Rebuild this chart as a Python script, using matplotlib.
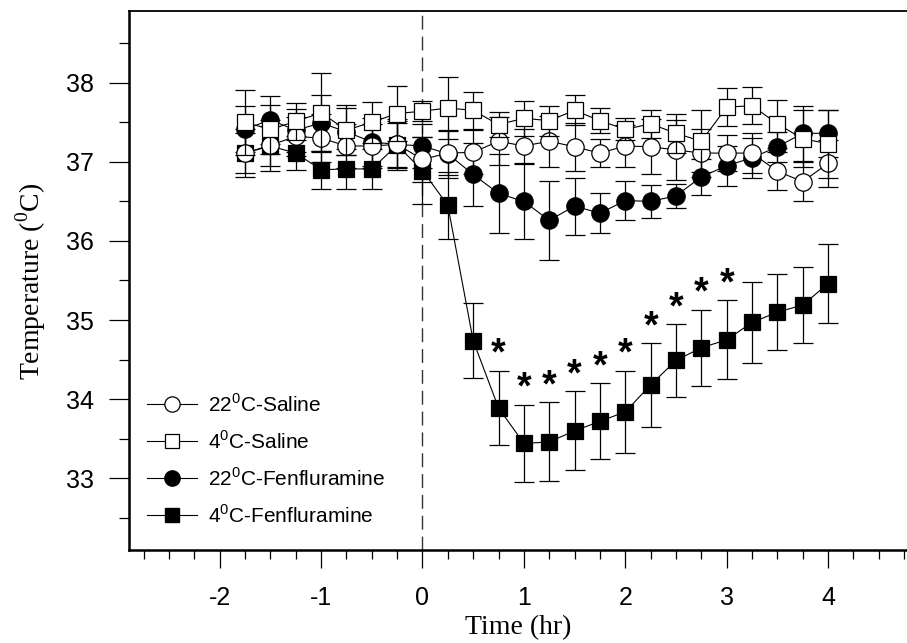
import matplotlib

matplotlib.use("Agg")
import matplotlib.pyplot as plt  # noqa: E402
from matplotlib.lines import Line2D  # noqa: E402
from matplotlib.ticker import MultipleLocator  # noqa: E402

plt.rcParams["axes.unicode_minus"] = False

SANS = ["Liberation Sans", "DejaVu Sans"]
SERIF = ["Liberation Serif", "DejaVu Serif"]

# time points (hr)
time_hr = [-1.75, -1.5, -1.25, -1.0, -0.75, -0.5, -0.25, 0.0,
           0.25, 0.5, 0.75, 1.0, 1.25, 1.5, 1.75, 2.0,
           2.25, 2.5, 2.75, 3.0, 3.25, 3.5, 3.75, 4.0]

saline_22 = [37.11, 37.21, 37.32, 37.30, 37.20, 37.20, 37.22, 37.03,
             37.11, 37.12, 37.26, 37.20, 37.26, 37.19, 37.11, 37.20,
             37.19, 37.15, 37.11, 37.11, 37.11, 36.88, 36.75, 36.98]
saline_22_se = [0.30, 0.32, 0.25, 0.30, 0.28, 0.28, 0.32, 0.28,
                0.28, 0.28, 0.30, 0.22, 0.32, 0.30, 0.18, 0.27,
                0.35, 0.38, 0.30, 0.23, 0.25, 0.24, 0.25, 0.30]

saline_4 = [37.50, 37.41, 37.51, 37.62, 37.40, 37.50, 37.61, 37.64,
            37.68, 37.65, 37.47, 37.55, 37.52, 37.65, 37.52, 37.41,
            37.48, 37.36, 37.26, 37.69, 37.71, 37.48, 37.29, 37.23]
saline_4_se = [0.41, 0.31, 0.23, 0.50, 0.32, 0.26, 0.35, 0.13,
               0.39, 0.23, 0.16, 0.22, 0.19, 0.19, 0.16, 0.14,
               0.18, 0.25, 0.39, 0.24, 0.23, 0.30, 0.36, 0.43]

fen_22 = [37.41, 37.53, 37.40, 37.49, 37.38, 37.25, 37.22, 37.20,
          37.10, 36.84, 36.60, 36.50, 36.26, 36.44, 36.35, 36.51,
          36.50, 36.57, 36.81, 36.95, 37.05, 37.19, 37.36, 37.36]
fen_22_se = [0.29, 0.30, 0.27, 0.35, 0.30, 0.30, 0.30, 0.28,
             0.30, 0.40, 0.50, 0.47, 0.50, 0.36, 0.25, 0.25,
             0.21, 0.15, 0.23, 0.25, 0.25, 0.19, 0.35, 0.30]

fen_4 = [37.11, 37.20, 37.11, 36.90, 36.91, 36.91, 37.21, 36.89,
         36.45, 34.74, 33.89, 33.44, 33.46, 33.60, 33.72, 33.84,
         34.18, 34.49, 34.65, 34.75, 34.97, 35.10, 35.19, 35.46]
fen_4_se = [0.25, 0.25, 0.21, 0.24, 0.25, 0.25, 0.28, 0.42,
            0.42, 0.47, 0.47, 0.49, 0.50, 0.50, 0.48, 0.52,
            0.53, 0.46, 0.48, 0.50, 0.51, 0.48, 0.48, 0.50]

# time points marked as significant
star_hr = [0.75, 1.0, 1.25, 1.5, 1.75, 2.0, 2.25, 2.5, 2.75, 3.0]

SUP0 = r"$^{\mathdefault{0}}$"
LABELS = [f"22{SUP0}C-Saline", f"4{SUP0}C-Saline",
          f"22{SUP0}C-Fenfluramine", f"4{SUP0}C-Fenfluramine"]

fig = plt.figure(figsize=(9.07, 6.43), dpi=100)
ax = fig.add_axes([129 / 907, 1 - 549.5 / 643, (907 - 129) / 907, (549.5 - 11) / 643])

ax.axvline(0, color="#333333", lw=1.0, ls=(0, (10, 5)), zorder=1)

series = [
    (fen_4, fen_4_se, "s", "black", 12.0, 2),
    (fen_22, fen_22_se, "o", "black", 12.5, 3),
    (saline_22, saline_22_se, "o", "white", 12.5, 4),
    (saline_4, saline_4_se, "s", "white", 11.5, 5),
]
for ys, se, marker, face, ms, z in series:
    ax.errorbar(time_hr, ys, yerr=se, fmt="-", marker=marker, ms=ms, mfc=face,
                mec="black", mew=0.9, color="black", lw=0.8, ecolor="black",
                elinewidth=0.9, capsize=7.2, capthick=0.9, zorder=z)

for t in star_hr:
    i = time_hr.index(t)
    ax.text(t, fen_4[i] + fen_4_se[i] + 0.2, "*", ha="center", va="center",
            fontsize=27, fontweight="bold", family=SANS, zorder=6)

ax.set_xlim(-2.894, 4.778)
ax.set_ylim(32.1, 38.906)
ax.set_xticks([-2, -1, 0, 1, 2, 3, 4])
ax.xaxis.set_minor_locator(MultipleLocator(0.25))
ax.set_yticks([33, 34, 35, 36, 37, 38])
ax.yaxis.set_minor_locator(MultipleLocator(0.5))

ax.spines["right"].set_visible(False)
ax.spines["left"].set_linewidth(1.8)
ax.spines["bottom"].set_linewidth(1.8)
ax.spines["top"].set_linewidth(1.3)

ax.tick_params(axis="x", which="major", direction="out", length=13, width=0.9, pad=13)
ax.tick_params(axis="x", which="minor", direction="out", length=6.5, width=0.9)
ax.tick_params(axis="y", which="major", direction="out", length=14.4, width=0.9, pad=11)
ax.tick_params(axis="y", which="minor", direction="out", length=7.2, width=0.9)
for lab in ax.get_xticklabels() + ax.get_yticklabels():
    lab.set_family(SANS)
    lab.set_fontsize(18)

fig.text(31 / 907, 1 - 281 / 643, f"Temperature ({SUP0}C)", rotation=90,
         ha="center", va="center", fontsize=20, family=SERIF)
fig.text(518 / 907, 1 - 628 / 643, "Time (hr)", ha="center", va="center",
         fontsize=20, family=SERIF)

handles = [
    Line2D([], [], color="black", lw=0.8, marker="o", ms=11, mfc="white", mec="black", mew=0.9),
    Line2D([], [], color="black", lw=0.8, marker="s", ms=10.5, mfc="white", mec="black", mew=0.9),
    Line2D([], [], color="black", lw=0.8, marker="o", ms=11, mfc="black", mec="black"),
    Line2D([], [], color="black", lw=0.8, marker="s", ms=10.5, mfc="black", mec="black"),
]
ax.legend(handles, LABELS, loc="upper left", bbox_to_anchor=(147 / 907, 1 - 393 / 643),
          bbox_transform=fig.transFigure, frameon=False, borderpad=0, borderaxespad=0,
          handlelength=2.4, handletextpad=0.55, labelspacing=0.69,
          prop={"family": SANS, "size": 15})

fig.savefig("out.png", dpi=100)
